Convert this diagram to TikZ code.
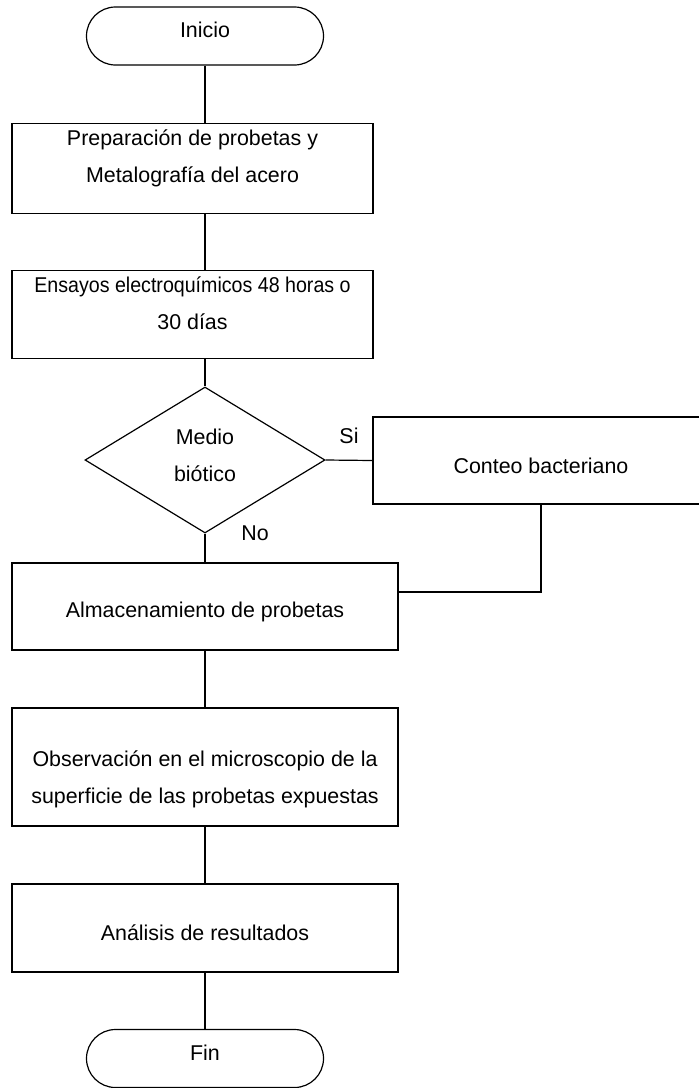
\documentclass[tikz,border=0pt]{standalone}
\usepackage{fontspec}
\usepackage{graphicx}
\setmainfont{Liberation Sans}
\usetikzlibrary{shapes.geometric, shapes.misc, positioning}

\begin{document}
\begin{tikzpicture}[
    x=0.5pt, y=-0.5pt,
    base/.style={draw, line width=0.6pt, align=center, inner xsep=1pt,
                 font=\fontsize{10.7pt}{18.5pt}\selectfont},
    term/.style={base, rounded rectangle, minimum width=120.5pt,
                 minimum height=29pt, text depth=6pt},
    proc/.style={base, rectangle, minimum height=43.5pt},
    decision/.style={base, diamond, minimum width=120pt,
                     minimum height=73pt, inner sep=0pt},
    link/.style={line width=0.6pt},
    lbl/.style={font=\fontsize{10.7pt}{12pt}\selectfont, inner sep=0pt}
]
\useasboundingbox (0,0) rectangle (699,1088);

% Steps
\node[term] (ini) at (205,36) {Inicio};
\node[proc, minimum width=180.5pt, minimum height=44.5pt] (prep) at (192.5,168.5)
    {Preparación de probetas y\\Metalografía del acero\rule[-12pt]{0pt}{0pt}};
\node[proc, minimum width=180.5pt] (ens) at (192.5,314.5)
    {\scalebox{0.917}[1]{Ensayos electroquímicos 48 horas o}\\30 días\rule[-11pt]{0pt}{0pt}};
\node[decision] (med) at (205,460) {Medio\\biótico\rule[-4.5pt]{0pt}{0pt}};
\node[proc, minimum width=168pt, text height=13pt] (cont) at (541,460.5)
    {Conteo bacteriano};
\node[proc, minimum width=193pt, text height=13pt] (alm) at (205,606.5)
    {Almacenamiento de probetas};
\node[proc, minimum width=193pt, minimum height=59pt] (obs) at (205,767)
    {\rule{0pt}{20pt}Observación en el microscopio de la\\superficie de las probetas expuestas};
\node[proc, minimum width=193pt, minimum height=44pt, text height=13pt] (ana) at (205,928)
    {Análisis de resultados};
\node[term] (fin) at (205,1058.5) {Fin};
\coordinate (junta) at (398,592);

% Connectors
\draw[link] (ini.south) -- (ini.south |- prep.north);
\draw[link] (med.north |- prep.south) -- (med.north |- ens.north);
\draw[link] (med.north |- ens.south) -- (med.north);
\draw[link] (med.east) -- node[lbl, above=8pt] (si) {Si} (cont.west);
\draw[link] (med.south) -- (alm.north);
\node[lbl, anchor=west] (no) at ([xshift=18pt]med.south) {No};
\draw[link] (cont.south) |- (junta);
\draw[link] (alm.south) -- (obs.north);
\draw[link] (obs.south) -- (ana.north);
\draw[link] (ana.south) -- (fin.north);
\end{tikzpicture}
\end{document}
